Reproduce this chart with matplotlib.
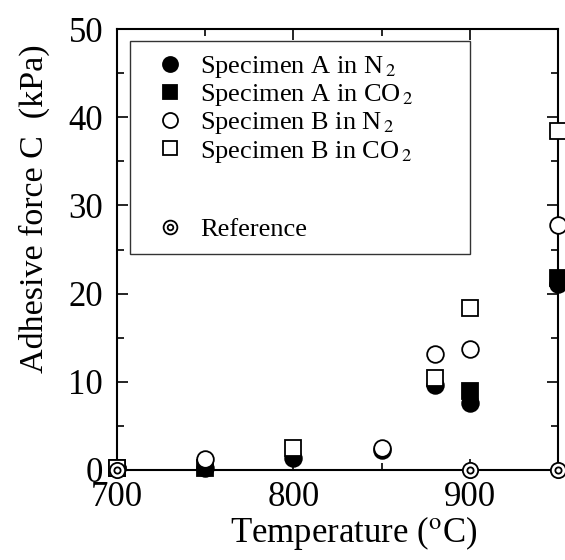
import matplotlib
matplotlib.use("Agg")
import matplotlib.pyplot as plt
from matplotlib.lines import Line2D
from matplotlib.ticker import MultipleLocator

plt.rcParams['font.family'] = ['Liberation Serif', 'DejaVu Serif']
plt.rcParams['mathtext.fontset'] = 'stix'

#   values (temperature in deg C, force in kPa)
temp_a_n2 = [700, 750, 800, 850, 880, 900, 950]
force_a_n2 = [0.2, 0.2, 1.4, 2.3, 9.6, 7.6, 21.1]

temp_a_co2 = [700, 750, 900, 950]
force_a_co2 = [0.2, 0.2, 9.0, 21.8]

temp_b_n2 = [700, 750, 850, 880, 900, 950]
force_b_n2 = [0.2, 1.3, 2.5, 13.1, 13.7, 27.8]

temp_b_co2 = [700, 800, 880, 900, 950]
force_b_co2 = [0.2, 2.5, 10.4, 18.4, 38.4]

temp_ref = [700, 900, 950]
force_ref = [0.0, 0.0, 0.0]

fig = plt.figure(figsize=(5.65, 5.60), dpi=100)
ax = fig.add_axes([117 / 565, 1 - 470 / 560, 441 / 565, 441 / 560])

ms = 12
ew = 1.3
common = dict(linestyle='none', clip_on=False, markeredgewidth=ew, markeredgecolor='black')

h1, = ax.plot(temp_a_n2, force_a_n2, marker='o', markersize=ms, markerfacecolor='black', zorder=3, **common)
h2, = ax.plot(temp_a_co2, force_a_co2, marker='s', markersize=ms - 0.5, markerfacecolor='black', zorder=3, **common)
h3, = ax.plot(temp_b_n2, force_b_n2, marker='o', markersize=ms, markerfacecolor='white', zorder=4, **common)
h4, = ax.plot(temp_b_co2, force_b_co2, marker='s', markersize=ms - 0.5, markerfacecolor='white', zorder=4, **common)
r_out, = ax.plot(temp_ref, force_ref, marker='o', markersize=ms - 1, markerfacecolor='white', zorder=5, **common)
r_in, = ax.plot(temp_ref, force_ref, marker='o', markersize=4.5, markerfacecolor='white', zorder=6, **common)

ax.set_xlim(700, 950)
ax.set_ylim(0, 50)
ax.xaxis.set_major_locator(MultipleLocator(100))
ax.xaxis.set_minor_locator(MultipleLocator(50))
ax.yaxis.set_major_locator(MultipleLocator(10))
ax.yaxis.set_minor_locator(MultipleLocator(5))
ax.tick_params(which='both', direction='in', top=True, right=True, width=1.2, labelsize=25)
ax.tick_params(which='major', length=8)
ax.tick_params(which='minor', length=5)
ax.tick_params(axis='x', pad=8)
ax.tick_params(axis='y', pad=10)
for s in ax.spines.values():
    s.set_linewidth(1.5)

ax.set_xlabel(r'Temperature ($^{\mathrm{o}}$C)', fontsize=25, labelpad=0)
ax.set_ylabel('Adhesive force C  (kPa)', fontsize=24.5, labelpad=13)
ax.xaxis.label.set_x(0.537)
ax.yaxis.label.set_y(0.592)

#   blank rows in the legend between the specimens and the reference
blank = Line2D([], [], linestyle='none')
handles = [h1, h2, h3, h4, blank, blank, (r_out, r_in)]
labels = [r'Specimen A in N$_{\,2}$', r'Specimen A in CO$_{\,2}$',
          r'Specimen B in N$_{\,2}$', r'Specimen B in CO$_{\,2}$', ' ', ' ', 'Reference']
leg = ax.legend(handles, labels, loc='upper left', bbox_to_anchor=(130 / 565, 1 - 41 / 560, 340 / 565, 0),
                bbox_transform=fig.transFigure, mode='expand', borderaxespad=0, fontsize=19,
                frameon=True, fancybox=False, edgecolor='black', handlelength=2.05, handletextpad=0.1,
                labelspacing=0.08, borderpad=0.5, markerscale=0.9)
leg.get_frame().set_linewidth(1.0)
leg.set_zorder(2)

fig.savefig('out.png', dpi=100)
